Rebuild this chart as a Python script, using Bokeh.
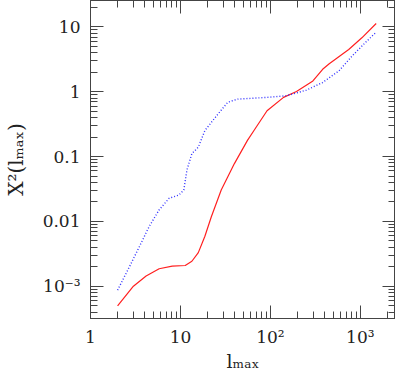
from bokeh.plotting import figure
from bokeh.models import FixedTicker, LogAxis
from bokeh.embed import file_html
from bokeh.resources import INLINE

# data
red_l = [2, 3, 4.15, 5.8, 8.1, 11.3, 13.4, 15.8, 18.7, 22.1, 28.4, 39.8, 55.6, 65.7,
         91.8, 140, 195, 297, 381, 451, 743, 1040, 1500]
red_x2 = [5.0e-4, 1.0e-3, 1.44e-3, 1.86e-3, 2.04e-3, 2.09e-3, 2.43e-3, 3.3e-3, 5.9e-3,
          0.0119, 0.0305, 0.078, 0.178, 0.253, 0.51, 0.82, 1.01, 1.47, 2.22, 2.7, 4.5, 6.8, 11.3]

blue_l = [2, 2.73, 3.5, 4.5, 5.8, 7.5, 9.6, 10.9, 11.8, 13.4, 15.8, 18.7, 26.2, 33.6,
          43.2, 68.5, 92, 152, 251, 381, 578, 810, 1130, 1500]
blue_x2 = [8.7e-4, 2.04e-3, 4.1e-3, 8.4e-3, 0.0151, 0.0228, 0.0255, 0.0305, 0.062, 0.111,
           0.14, 0.253, 0.455, 0.69, 0.77, 0.80, 0.82, 0.87, 1.06, 1.39, 2.1, 3.56, 5.7, 8.3]

x_ticks = [1, 10, 100, 1000]
x_tick_labels = ["1", "10", "10²", "10³"]
y_ticks = [0.001, 0.01, 0.1, 1, 10]
y_tick_labels = ["10⁻³", "0.01", "0.1", "1", "10"]
x_title = "lₘₐₓ"
y_title = "X²(lₘₐₓ)"

x_minor = [m * 10 ** k for k in range(0, 4) for m in range(2, 10)]
y_minor = [m * 10.0 ** k for k in range(-4, 2) for m in range(2, 10)]

FONT = "DejaVu Serif"
AX = "#444444"

p = figure(width=395, height=374, x_axis_type="log", y_axis_type="log",
           x_range=(1, 2460), y_range=(3.18e-4, 25.6),
           output_backend="svg", toolbar_location=None,
           min_border_left=82, min_border_top=0, min_border_right=0, min_border_bottom=54)
p.grid.visible = False
p.outline_line_color = AX
p.outline_line_width = 1

p.line(red_l, red_x2, line_color="#ff2020", line_width=1.2)
p.line(blue_l, blue_x2, line_color="#3030ff", line_width=1.4, line_dash="1 2")

def style(ax, labels):
    ax.axis_line_color = AX
    ax.major_tick_line_color = AX
    ax.minor_tick_line_color = AX
    ax.major_tick_in = 13
    ax.major_tick_out = 0
    ax.minor_tick_in = 7
    ax.minor_tick_out = 0
    if labels:
        ax.major_label_text_font = FONT
        ax.major_label_text_font_size = "17px"
        ax.major_label_text_color = "#222222"
        ax.major_label_standoff = 10
        ax.axis_label_text_font = FONT
        ax.axis_label_text_font_size = "20px"
        ax.axis_label_text_font_style = "normal"
        ax.axis_label_text_color = "#222222"
    else:
        ax.major_label_text_font_size = "1px"
        ax.major_label_text_color = None
        ax.major_label_standoff = 0

p.xaxis.ticker = FixedTicker(ticks=x_ticks, minor_ticks=x_minor)
p.yaxis.ticker = FixedTicker(ticks=y_ticks, minor_ticks=y_minor)
p.xaxis.major_label_overrides = {t: s for t, s in zip(x_ticks, x_tick_labels)}
p.yaxis.major_label_overrides = {t: s for t, s in zip(y_ticks, y_tick_labels)}
p.xaxis.axis_label = x_title
p.yaxis.axis_label = y_title
p.yaxis.axis_label_standoff = 12
style(p.xaxis[0], True)
style(p.yaxis[0], True)
p.xaxis.major_label_standoff = 8
p.xaxis.axis_label_standoff = 0
p.xaxis.axis_label_text_font_size = "19px"

top = LogAxis(ticker=FixedTicker(ticks=x_ticks, minor_ticks=x_minor))
right = LogAxis(ticker=FixedTicker(ticks=y_ticks, minor_ticks=y_minor))
style(top, False)
style(right, False)
p.add_layout(top, "above")
p.add_layout(right, "right")

open("out.html", "w").write(file_html(p, INLINE))
